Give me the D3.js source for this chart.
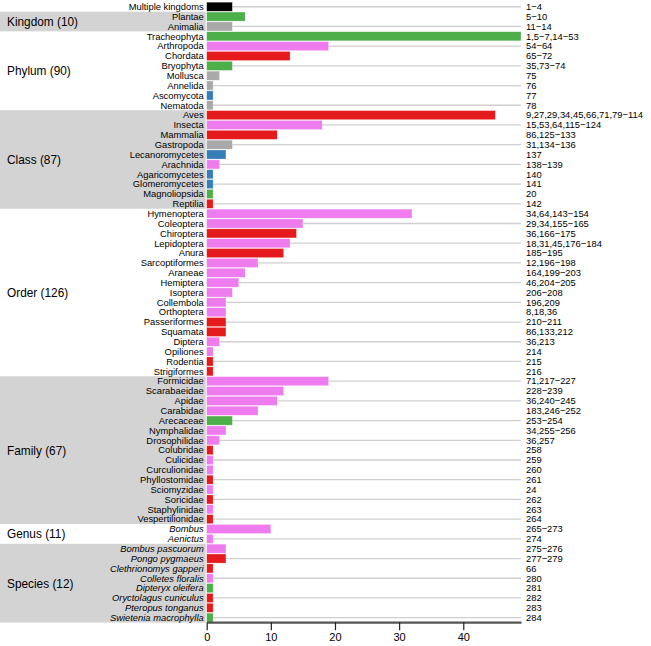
<!DOCTYPE html>
<html lang="en">
<head>
<meta charset="UTF-8" />
<title>Taxa</title>
<script src="https://cdn.jsdelivr.net/npm/d3@7"></script>
<style>
  body { margin: 0; background: #fff; }
  text { font-family: "Liberation Sans", Arial, sans-serif; fill: #000; }
</style>
</head>
<body>
<div id="chart"></div>
<script>
// rows, top to bottom
var taxa = ["Multiple kingdoms","Plantae","Animalia",
  "Tracheophyta","Arthropoda","Chordata","Bryophyta","Mollusca","Annelida","Ascomycota","Nematoda",
  "Aves","Insecta","Mammalia","Gastropoda","Lecanoromycetes","Arachnida","Agaricomycetes","Glomeromycetes","Magnoliopsida","Reptilia",
  "Hymenoptera","Coleoptera","Chiroptera","Lepidoptera","Anura","Sarcoptiformes","Araneae","Hemiptera","Isoptera","Collembola","Orthoptera","Passeriformes","Squamata","Diptera","Opiliones","Rodentia","Strigiformes",
  "Formicidae","Scarabaeidae","Apidae","Carabidae","Arecaceae","Nymphalidae","Drosophilidae","Colubridae","Culicidae","Curculionidae","Phyllostomidae","Sciomyzidae","Soricidae","Staphylinidae","Vespertilionidae",
  "Bombus","Aenictus",
  "Bombus pascuorum","Pongo pygmaeus","Clethrionomys gapperi","Colletes floralis","Dipteryx oleifera","Oryctolagus cuniculus","Pteropus tonganus","Swietenia macrophylla"];

var counts = [4,6,4,
  49,19,13,4,2,1,1,1,
  45,18,11,4,3,2,1,1,1,1,
  32,15,14,13,12,8,6,5,4,3,3,3,3,2,1,1,1,
  19,12,11,8,4,3,2,1,1,1,1,1,1,1,1,
  10,1,
  3,3,1,1,1,1,1,1];

// broad type of each taxon (drives the colour)
var types = ["multi","plant","other",
  "plant","arthropod","chordate","plant","other","other","fungus","other",
  "chordate","arthropod","chordate","other","fungus","arthropod","fungus","fungus","plant","chordate",
  "arthropod","arthropod","chordate","arthropod","chordate","arthropod","arthropod","arthropod","arthropod","arthropod","arthropod","chordate","chordate","arthropod","arthropod","chordate","chordate",
  "arthropod","arthropod","arthropod","arthropod","plant","arthropod","arthropod","chordate","arthropod","arthropod","chordate","arthropod","chordate","arthropod","chordate",
  "arthropod","arthropod",
  "arthropod","chordate","chordate","arthropod","plant","chordate","chordate","plant"];

var refs = ["1\u22124","5\u221210","11\u221214",
  "1,5\u22127,14\u221253","54\u221264","65\u221272","35,73\u221274","75","76","77","78",
  "9,27,29,34,45,66,71,79\u2212114","15,53,64,115\u2212124","86,125\u2212133","31,134\u2212136","137","138\u2212139","140","141","20","142",
  "34,64,143\u2212154","29,34,155\u2212165","36,166\u2212175","18,31,45,176\u2212184","185\u2212195","12,196\u2212198","164,199\u2212203","46,204\u2212205","206\u2212208","196,209","8,18,36","210\u2212211","86,133,212","36,213","214","215","216",
  "71,217\u2212227","228\u2212239","36,240\u2212245","183,246\u2212252","253\u2212254","34,255\u2212256","36,257","258","259","260","261","24","262","263","264",
  "265\u2212273","274",
  "275\u2212276","277\u2212279","66","280","281","282","283","284"];

// rank groups: label and how many rows each spans
var ranks = ["", "Kingdom (10)", "Phylum (90)", "Class (87)", "Order (126)", "Family (67)", "Genus (11)", "Species (12)"];
var rankRows = [1, 2, 8, 10, 17, 15, 2, 8];
var shaded = [false, true, false, true, false, true, false, true];
var italicRanks = ["Genus (11)", "Species (12)"];
var xTicks = [0, 10, 20, 30, 40];

var width = 651, height = 646;
var x0 = 206.7, x1 = 521;

var svg = d3.select("#chart").append("svg")
  .attr("width", width).attr("height", height);

var x = d3.scaleLinear().domain([0, d3.max(counts)]).range([x0, x1]);
var y = d3.scaleBand().domain(d3.range(taxa.length)).range([1.8, 622.6]).paddingInner(0.08).paddingOuter(0.04);
var colour = d3.scaleOrdinal()
  .domain(["multi","plant","other","fungus","arthropod","chordate"])
  .range(["#000000","#4daf4a","#a9a9a9","#377eb8","#ee7cee","#e41a1c"]);

// which rank each row belongs to
var rowRank = [];
ranks.forEach(function(r, i){
  for (var k = 0; k < rankRows[i]; k++) rowRank.push(r);
});
var step = y.step();
var top0 = 1.8;
function mid(i){ return y(i) + y.bandwidth() / 2; }

// shaded rank bands
var start = 0;
ranks.forEach(function(r, i){
  var y1 = top0 + start * step, y2 = top0 + (start + rankRows[i]) * step;
  if (shaded[i]) {
    svg.append("rect").attr("x", 0).attr("y", y1)
      .attr("width", x0 - 1).attr("height", y2 - y1)
      .attr("fill", "#d3d3d3");
  }
  if (r) {
    svg.append("text")
      .attr("transform", "translate(7," + ((y1 + y2) / 2) + ") scale(0.94,1)")
      .attr("dy", "0.35em").attr("font-size", 12.6).text(r);
  }
  start += rankRows[i];
});

// guide lines on every other row
svg.selectAll(".guide").data(d3.range(0, taxa.length, 2)).enter()
  .append("line").attr("class", "guide")
  .attr("x1", x0).attr("x2", x1)
  .attr("y1", mid).attr("y2", mid)
  .attr("stroke", "#cfcfcf").attr("stroke-width", 1.3);

// bars
svg.selectAll(".bar").data(d3.range(taxa.length)).enter()
  .append("rect").attr("class", "bar")
  .attr("x", x(0))
  .attr("y", function(i){ return y(i); })
  .attr("width", function(i){ return x(counts[i]) - x(0); })
  .attr("height", y.bandwidth())
  .attr("fill", function(i){ return colour(types[i]); })
  .attr("stroke", "#ffffff").attr("stroke-opacity", 0.45).attr("stroke-width", 0.6);

// taxon names
svg.selectAll(".name").data(d3.range(taxa.length)).enter()
  .append("text").attr("class", "name")
  .attr("x", x0 - 3).attr("y", mid)
  .attr("dy", "0.35em").attr("text-anchor", "end").attr("font-size", 9.4)
  .attr("font-style", function(i){ return italicRanks.indexOf(rowRank[i]) > -1 ? "italic" : "normal"; })
  .text(function(i){ return taxa[i]; });

// references on the right
svg.selectAll(".ref").data(d3.range(taxa.length)).enter()
  .append("text").attr("class", "ref")
  .attr("x", x1 + 5).attr("y", mid)
  .attr("dy", "0.35em").attr("font-size", 9.4)
  .text(function(i){ return refs[i]; });

// x axis
var axis = svg.append("g").attr("transform", "translate(0,622.2)")
  .call(d3.axisBottom(x).tickValues(xTicks).tickSize(8).tickPadding(3).tickSizeOuter(0));
axis.select(".domain").attr("stroke", "#555").attr("stroke-width", 2.2);
axis.selectAll(".tick line").attr("stroke", "#222").attr("stroke-width", 1.2);
axis.selectAll(".tick text").attr("font-size", 11)
  .attr("font-family", "Liberation Sans, Arial, sans-serif").attr("fill", "#000");
</script>
</body>
</html>
